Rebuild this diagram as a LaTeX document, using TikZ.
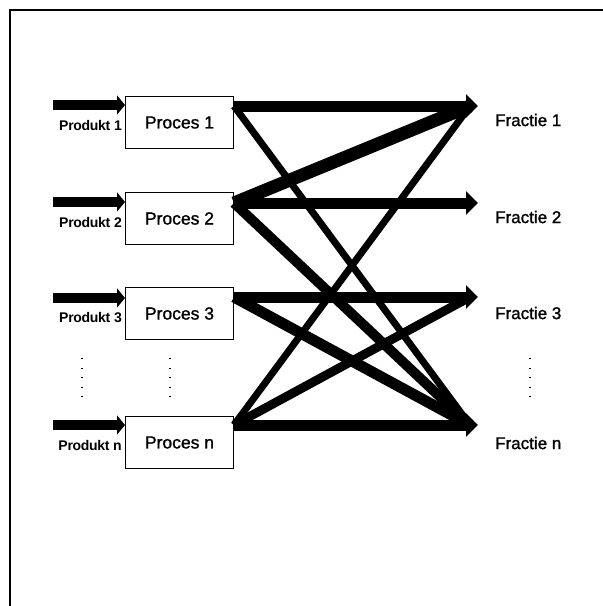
\documentclass[tikz,border=0pt]{standalone}
\usepackage{fontspec}
\setmainfont{Liberation Sans}[FakeBold=1.2]
\newfontfamily\labfont[LetterSpace=-2]{Liberation Sans}
\usetikzlibrary{arrows.meta,positioning}
\begin{document}
\begin{tikzpicture}[x=1pt,y=-1pt,
  procbox/.style={draw,line width=1pt,minimum width=108pt,minimum height=52pt,
    anchor=north west,inner sep=0pt,font=\fontsize{17.5}{20}\selectfont},
  prodlabel/.style={anchor=east,inner sep=0pt,font=\labfont\bfseries\fontsize{14}{16}\selectfont},
  fraclabel/.style={anchor=west,inner sep=0pt,font=\fontsize{17}{20}\selectfont},
  inflow/.style={line width=10pt,-{Triangle[length=8pt,width=19pt]}},
  outflow/.style={line width=11pt,-{Triangle[length=12pt,width=23pt]}},
  cross/.style={line width=#1pt,line cap=butt},
  dotcol/.style={line width=1.2pt,dash pattern=on 1.2pt off 8.3pt}]
\useasboundingbox (0,0) rectangle (603,606);
% frame
\draw[line width=2.2pt] (10,606) -- (10,10) -- (603,10);

% process boxes
\node[procbox] (p1) at (125,96)  {Proces 1};
\node[procbox] (p2) at (125,192) {Proces 2};
\node[procbox] (p3) at (125,287) {Proces 3};
\node[procbox] (pn) at (125,416) {Proces n};

% input ports and sources
\coordinate (p1in)  at ([yshift=-9pt]p1.north west);
\coordinate (p2in)  at ([yshift=-10pt]p2.north west);
\coordinate (p3in)  at ([yshift=-11pt]p3.north west);
\coordinate (pnin)  at ([yshift=-9pt]pn.north west);
\coordinate (s1) at (53,105);
\coordinate (s2) at (53,202);
\coordinate (s3) at (53,298);
\coordinate (sn) at (53,425);

% output ports
\coordinate (p1out) at ([yshift=-10pt]p1.north east);
\coordinate (p2out) at ([yshift=-11pt]p2.north east);
\coordinate (p3out) at ([yshift=-10pt]p3.north east);
\coordinate (pnout) at ([yshift=-9pt]pn.north east);

% fraction arrow tips
\coordinate (f1tip) at (478,106);
\coordinate (f2tip) at (478,203);
\coordinate (f3tip) at (478,297);
\coordinate (fntip) at (478,425);
\coordinate (f1end) at (470,106);
\coordinate (fnend) at (470,425);
\coordinate (f3end) at (470,297);

% product labels
\node[prodlabel] (l1) at (122,125) {Produkt 1};
\node[prodlabel] (l2) at (122,222) {Produkt 2};
\node[prodlabel] (l3) at (122,318) {Produkt 3};
\node[prodlabel] (ln) at (122,445) {Produkt n};

% fraction labels
\node[fraclabel] (f1) at (495,120) {Fractie 1};
\node[fraclabel] (f2) at (495,217) {Fractie 2};
\node[fraclabel] (f3) at (495,313) {Fractie 3};
\node[fraclabel] (fn) at (495,443) {Fractie n};

% incoming products
\draw[inflow] (s1) -- (p1in);
\draw[inflow] (s2) -- (p2in);
\draw[inflow] (s3) -- (p3in);
\draw[inflow] (sn) -- (pnin);

% cross flows
\draw[cross=7] (p1out) -- (fnend);
\draw[cross=13] (p2out) -- (f1end);
\draw[cross=10] (p2out) -- (fnend);
\draw[cross=11] (p3out) -- (fnend);
\draw[cross=7] (pnout) -- (f1end);
\draw[cross=9] (pnout) -- (f3end);

% straight flows
\draw[outflow] (p1out) -- (f1tip);
\draw[outflow] (p2out) -- (f2tip);
\draw[outflow] (p3out) -- (f3tip);
\draw[outflow] (pnout) -- (fntip);

% ellipsis dots
\draw[dotcol] (82,358) -- (82,402);
\draw[dotcol] (170,358) -- (170,402);
\draw[dotcol] (530,358) -- (530,402);
\end{tikzpicture}
\end{document}
